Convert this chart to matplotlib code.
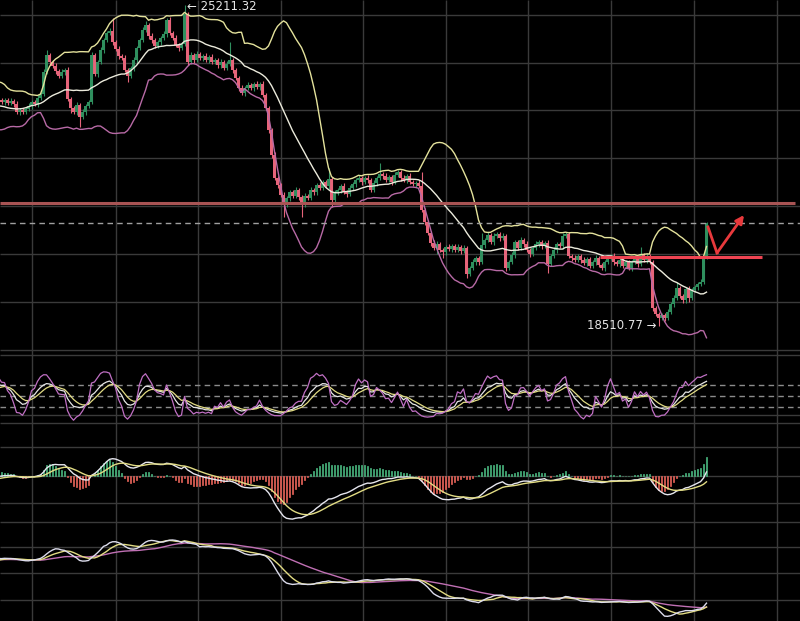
import numpy as np
import pandas as pd
import matplotlib
matplotlib.use('Agg')
import matplotlib.pyplot as plt

W, H = 800, 621

# 30 candles left of the frame, only there to warm up the indicators
warmup_close = [23221, 23138, 23054, 23158, 23263, 23179, 23075, 23013, 23138, 23242,
                23325, 23471, 23554, 23429, 23263, 23117, 22971, 22846, 22721, 22638,
                22763, 22909, 22846, 23013, 23138, 23221, 23096, 23179, 23263, 23221]

# visible closes (open = previous close)
close_vis = [
    23179, 23221, 23158, 23200, 23138, 22971, 23013, 22971, 23034, 23096,
    23179, 23138, 23263, 23346, 23804, 24159, 24013, 23929, 23825, 23721,
    23804, 23846, 23242, 23054, 22971, 23117, 22867, 22971, 23096, 23179,
    24159, 23763, 24013, 24263, 24471, 24617, 24659, 24430, 24284, 24138,
    24096, 23846, 23721, 23888, 24055, 24305, 24471, 24680, 24784, 24555,
    24471, 24346, 24430, 24513, 24596, 24888, 24617, 24513, 24367, 24305,
    24388, 25013, 24013, 24159, 24055, 24180, 24096, 24138, 24055, 24117,
    24013, 24055, 23950, 24013, 23888, 23971, 24055, 23846, 23680, 23471,
    23367, 23471, 23534, 23471, 23554, 23492, 23554, 23325, 23054, 22596,
    22075, 21596, 21450, 21241, 21033, 21179, 21304, 21221, 21345, 21200,
    21033, 21221, 21179, 21345, 21304, 21450, 21387, 21512, 21429, 21575,
    21137, 21283, 21345, 21429, 21304, 21262, 21387, 21471, 21554, 21596,
    21512, 21596, 21554, 21345, 21491, 21596, 21679, 21637, 21554, 21617,
    21512, 21658, 21721, 21596, 21554, 21637, 21512, 21471, 21491, 21429,
    20929, 20678, 20449, 20240, 20137, 20220, 20095, 20053, 20157, 20116,
    20178, 20095, 20157, 20074, 20137, 19595, 19720, 19845, 19928, 19845,
    20199, 20303, 20408, 20262, 20387, 20428, 20345, 20387, 19720, 19845,
    19991, 20262, 20137, 20303, 20220, 20095, 20012, 20137, 20220, 20262,
    20178, 20241, 19803, 19970, 20095, 20220, 20178, 20387, 20428, 19970,
    19928, 19887, 19970, 19887, 19824, 19908, 19762, 19845, 19928, 19783,
    19720, 19845, 19928, 19970, 19845, 19803, 19887, 19762, 19845, 19720,
    19845, 19928, 19803, 19991, 19887, 19970, 19845, 18886, 18761, 18678,
    18740, 18678, 18803, 18970, 19095, 19303, 19137, 19053, 19282, 19095,
    19261, 19324, 19387, 19428, 19949, 20658]

# wick lengths above / below the body (warm-up first, then visible)
up_wick = [
    50, 40, 60, 45, 55, 40, 50, 60, 45, 40, 55, 50, 40, 60, 45, 50, 55, 40, 60, 50,
    45, 40, 55, 50, 60, 45, 40, 50, 55, 45,
    40, 50, 45, 60, 40, 55, 45, 50, 40, 60,
    50, 45, 55, 40, 60, 105, 50, 45, 60, 40,
    55, 45, 60, 50, 40, 55, 45, 60, 50, 40,
    60, 50, 45, 55, 40, 50, 60, 270, 45, 55,
    40, 60, 50, 45, 55, 40, 50, 60, 80, 45,
    55, 40, 50, 45, 60, 50, 70, 45, 55, 40,
    50, 198, 45, 55, 40, 60, 50, 45, 55, 40,
    60, 45, 50, 55, 40, 60, 375, 45, 50, 40,
    55, 45, 60, 50, 40, 55, 45, 60, 50, 40,
    45, 55, 40, 50, 60, 45, 50, 40, 55, 45,
    40, 55, 45, 60, 50, 40, 55, 45, 50, 230,
    45, 60, 50, 40, 55, 45, 60, 50, 40, 55,
    50, 45, 60, 40, 55, 50, 230, 45, 60, 50,
    40, 55, 45, 50, 60, 40, 55, 45, 50, 60,
    300, 45, 50, 40, 55, 60, 45, 50, 40, 55,
    50, 45, 60, 40, 55, 50, 45, 60, 50, 40,
    250, 45, 55, 40, 60, 50, 45, 55, 40, 50,
    60, 45, 50, 55, 40, 60, 45, 50, 55, 40,
    50, 45, 60, 40, 55, 50, 45, 60, 50, 40,
    45, 55, 40, 50, 60, 45, 50, 40, 55, 45,
    50, 40, 55, 45, 60, 50, 40, 55, 45, 50,
    45, 60, 50, 170, 40, 55, 45, 50, 40, 45,
    50, 40, 55, 45, 60, 125, 45, 50, 40, 55,
    45, 50, 40, 60, 45, 20]
dn_wick = [
    45, 55, 40, 50, 60, 45, 40, 55, 50, 45, 40, 60, 50, 45, 55, 40, 50, 60, 45, 55,
    50, 40, 45, 60, 50, 55, 45, 40, 50, 60,
    45, 55, 40, 50, 60, 45, 55, 40, 50, 45,
    55, 40, 60, 45, 50, 40, 55, 45, 60, 50,
    40, 55, 45, 110, 50, 60, 210, 45, 55, 40,
    50, 45, 60, 40, 55, 45, 50, 60, 40, 55,
    45, 50, 125, 40, 55, 60, 45, 50, 40, 55,
    60, 45, 50, 55, 40, 60, 45, 50, 40, 55,
    45, 50, 60, 40, 55, 45, 50, 60, 40, 55,
    50, 40, 55, 60, 45, 50, 40, 55, 45, 60,
    40, 55, 45, 50, 60, 40, 55, 45, 50, 60,
    55, 45, 60, 50, 250, 40, 55, 45, 50, 60,
    250, 45, 50, 40, 55, 60, 45, 50, 40, 55,
    150, 50, 45, 55, 40, 60, 50, 45, 55, 40,
    60, 45, 55, 50, 40, 55, 45, 60, 50, 40,
    55, 45, 50, 60, 40, 55, 45, 50, 60, 40,
    50, 55, 45, 60, 50, 125, 40, 125, 55, 45,
    60, 50, 45, 55, 40, 90, 50, 45, 60, 55,
    40, 55, 45, 50, 60, 45, 55, 40, 60, 50,
    45, 60, 50, 40, 55, 45, 60, 50, 40, 55,
    60, 45, 190, 50, 40, 55, 45, 60, 50, 40,
    55, 45, 50, 60, 40, 55, 45, 50, 60, 40,
    45, 55, 40, 50, 60, 45, 55, 40, 50, 45,
    60, 40, 55, 45, 50, 60, 40, 55, 45, 165,
    50, 60, 45, 40, 55, 50, 45, 60, 55, 80,
    50, 45, 55, 40, 50, 45]

hi_label = '\u2190 25211.32'
lo_label = '18510.77 \u2192'
resist_price = 21074      # long red line
support_price = 19955     # short red line
arrow_pts = [(265.5, 20574), (268.5, 20033), (277.5, 20824)]

GREEN = '#2f8f5e'
RED = '#e6647a'
GRID = '#3a3a3a'

close = np.array(warmup_close + close_vis, dtype=float)
open_ = np.r_[close[0], close[:-1]]
high = np.maximum(open_, close) + np.array(up_wick)
low = np.minimum(open_, close) - np.array(dn_wick)
k = np.arange(len(close))
n0 = len(warmup_close)
vis = k >= n0

s = pd.Series(close)
mid = s.rolling(20).mean()
sd = s.rolling(20).std(ddof=0)
upper, lower = mid + 2 * sd, mid - 2 * sd

dif = s.ewm(span=12, adjust=False).mean() - s.ewm(span=26, adjust=False).mean()
dea = dif.ewm(span=9, adjust=False).mean()
hist = 2 * (dif - dea)

llv = pd.Series(low).rolling(9, min_periods=1).min()
hhv = pd.Series(high).rolling(9, min_periods=1).max()
rsv = (s - llv) / (hhv - llv) * 100
kk = rsv.ewm(com=2, adjust=False).mean()
dd = kk.ewm(com=2, adjust=False).mean()
jj = 3 * kk - 2 * dd

ma5, ma10, ma30 = s.rolling(5).mean(), s.rolling(10).mean(), s.rolling(30).mean()

fig = plt.figure(figsize=(W / 100, H / 100), dpi=100, facecolor='black')

# pixel-space grid behind everything
bg = fig.add_axes([0, 0, 1, 1])
bg.set_xlim(0, W)
bg.set_ylim(H, 0)
bg.set_facecolor('black')
bg.axis('off')
bg.vlines([32, 116, 198, 281, 363, 446, 528, 611, 694, 777], 0, H, color=GRID, lw=1)
bg.hlines([15, 63, 110, 158, 206, 254, 302, 350, 355, 415, 423, 447, 476, 503, 522,
           547, 573, 600], 0, W, color=GRID, lw=1)

x0 = n0 - 0.5


def pane(top, bottom):
    ax = fig.add_axes([0, 1 - bottom / H, 1, (bottom - top) / H])
    ax.set_facecolor('none')
    ax.axis('off')
    ax.set_xlim(x0, x0 + W / 3.0)
    return ax


# ---- price + bollinger
ax = pane(0, 352)
ax.set_ylim(17969, 25305)
cols = np.where(close >= open_, GREEN, RED)
ax.vlines(k[vis], low[vis], high[vis], colors=cols[vis], lw=0.8)
body = np.maximum(np.abs(close - open_), 14)
ax.bar(k[vis], body[vis], bottom=np.minimum(open_, close)[vis], width=0.72,
       color=cols[vis], lw=0)
m = k >= 19
ax.plot(k[m], upper[m], color='#e4e29c', lw=1)
ax.plot(k[m], mid[m], color='#ecebdc', lw=1)
ax.plot(k[m], lower[m], color='#b86aa6', lw=1)

ax.hlines(resist_price, x0, x0 + 795 / 3.0, color='#a85454', lw=2.2)
ax.hlines(support_price, x0 + 200, x0 + 254, color='#ee4452', lw=2.2)
ax.axhline(close[-1], color='#a0a0a0', lw=1, ls=(0, (4, 3)))

ax.plot([arrow_pts[0][0], arrow_pts[1][0]], [arrow_pts[0][1], arrow_pts[1][1]],
        color='#e8393c', lw=2)
ax.annotate('', xy=arrow_pts[2], xytext=arrow_pts[1],
            arrowprops=dict(arrowstyle='-|>', color='#e8393c', lw=2,
                            mutation_scale=12, shrinkA=0, shrinkB=0))

ih = int(np.argmax(high))
il = n0 + int(np.argmin(low[n0:]))
ax.text(ih + 0.8, 25300, hi_label, color='#e6e6e6', fontsize=8.5,
        ha='left', va='top', clip_on=False)
ax.text(il - 0.8, low[il], lo_label, color='#e6e6e6', fontsize=8.5,
        ha='right', va='center', clip_on=False)

# ---- KDJ
ax2 = pane(355, 423)
ax2.set_ylim(-22.5, 162)
for lvl in (80, 50, 20):
    ax2.axhline(lvl, color='#8c8c8c', lw=1, ls=(0, (4, 3)))
m = k >= n0 - 2
ax2.plot(k[m], kk[m], color='#e6e6e6', lw=0.9)
ax2.plot(k[m], dd[m], color='#e2dc84', lw=0.9)
ax2.plot(k[m], jj[m], color='#c070c4', lw=0.9)

# ---- MACD
ax3 = pane(423, 522)
ax3.set_ylim(-787, 925)
hv = hist.values
ax3.bar(k[vis], hv[vis], width=0.55,
        color=np.where(hv[vis] >= 0, '#1f6e46', '#e0584f'),
        edgecolor=np.where(hv[vis] >= 0, '#52c48a', '#e8665c'), lw=0.5)
ax3.plot(k[m], dif[m], color='#e6e6ee', lw=1)
ax3.plot(k[m], dea[m], color='#e2dc84', lw=1)

# ---- moving averages
ax4 = pane(525, 621)
ax4.set_ylim(18372, 25783)
m = k >= 29
ax4.plot(k[m], ma30[m], color='#c070b4', lw=1)
ax4.plot(k[m], ma10[m], color='#e2dc84', lw=1)
ax4.plot(k[m], ma5[m], color='#dcdcec', lw=1)

fig.savefig('out.png', dpi=100, facecolor='black')
